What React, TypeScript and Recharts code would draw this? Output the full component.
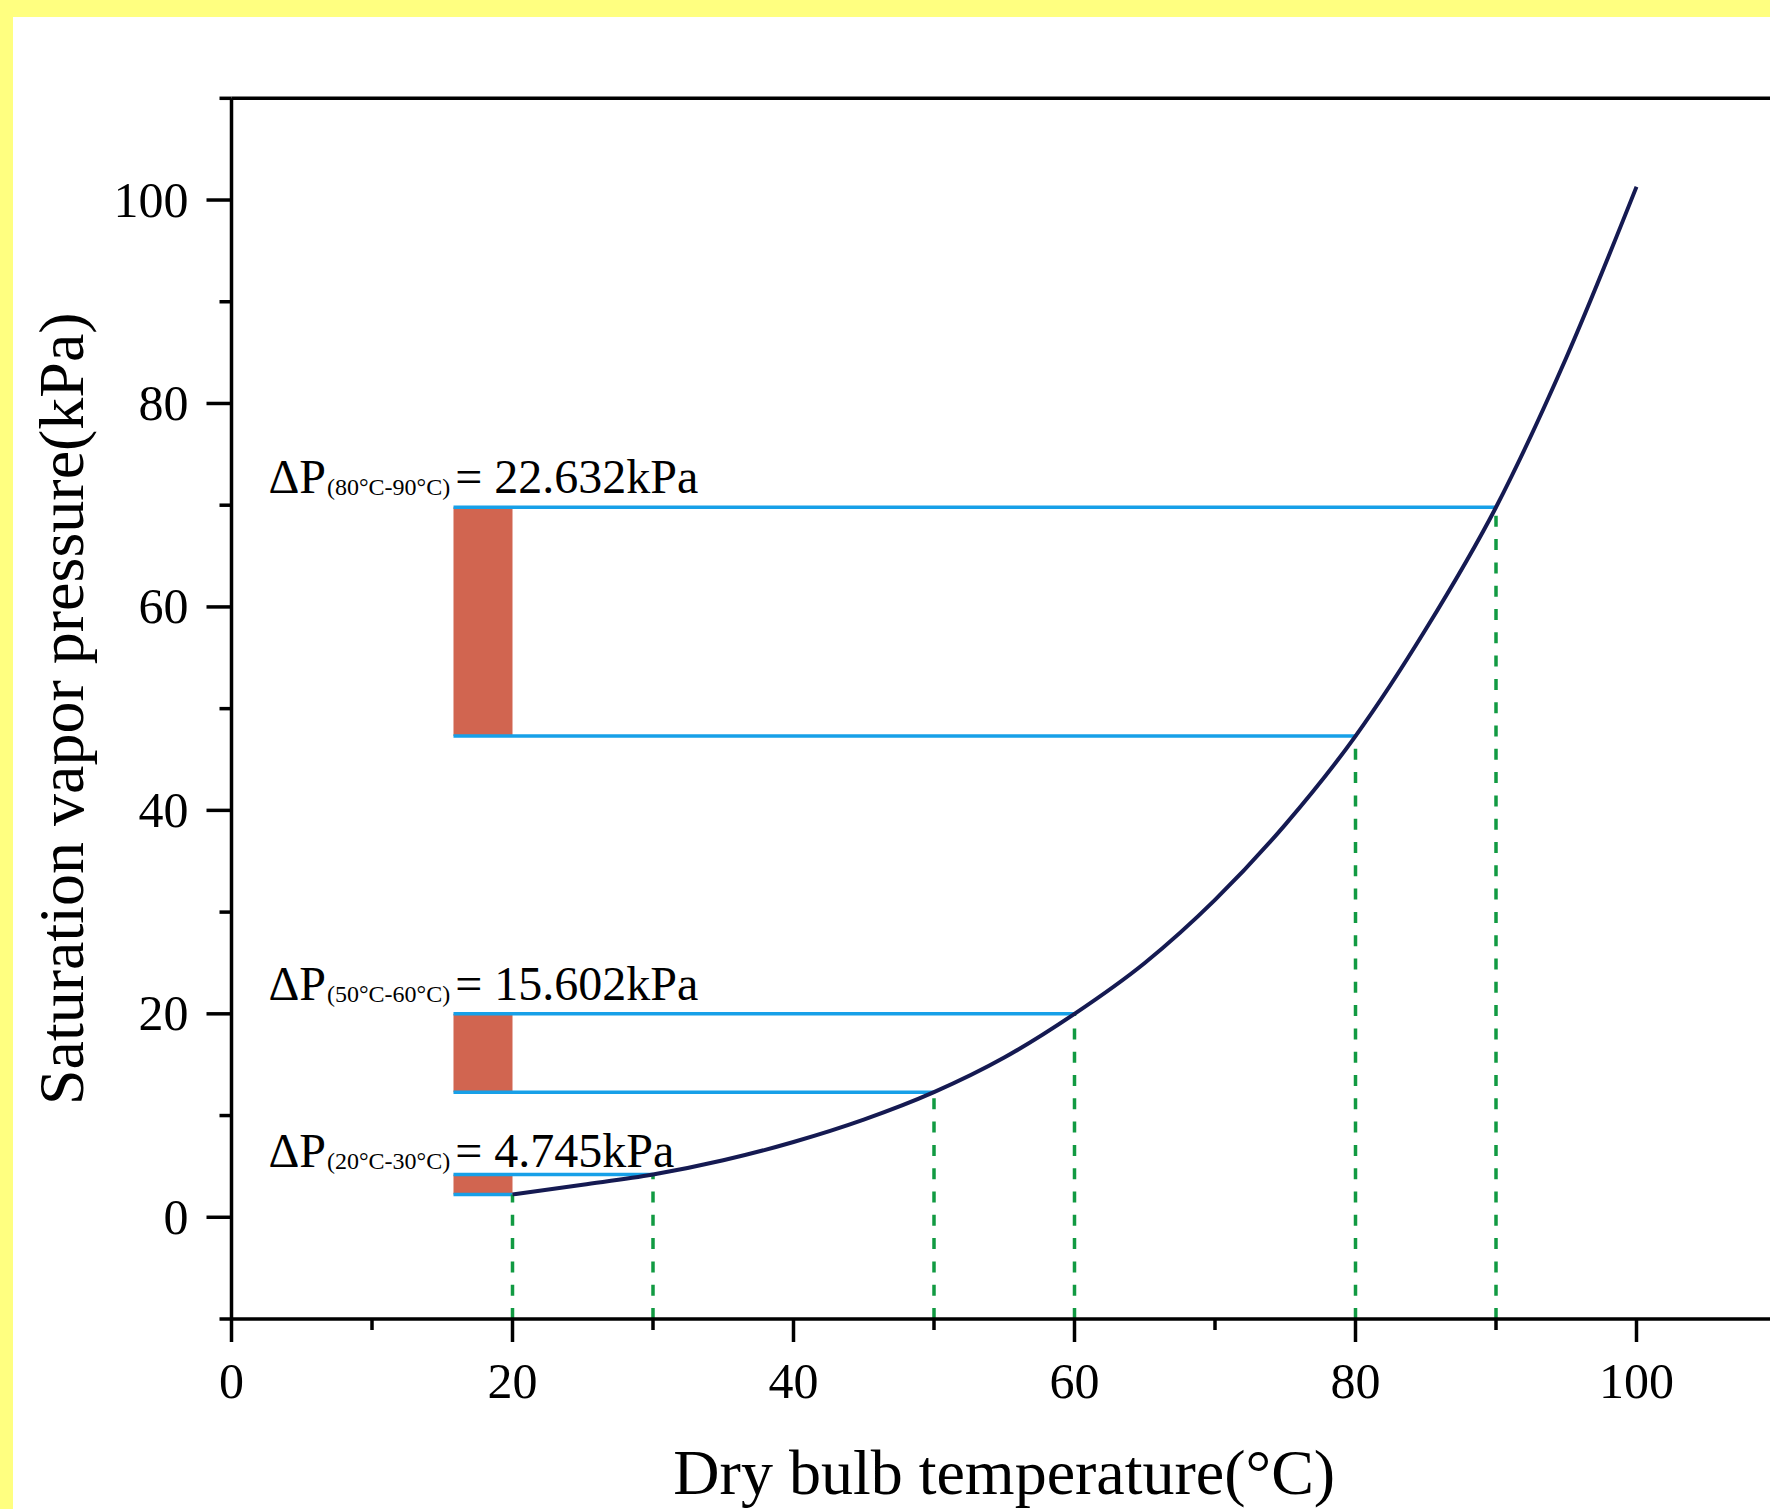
import React from 'react'
import {
  ComposedChart,
  Line,
  XAxis,
  YAxis,
  ReferenceLine,
  ReferenceArea,
  ReferenceDot,
} from 'recharts'

// saturation curve
const temperature = [20, 25, 30, 35, 40, 45, 50, 55, 60, 65, 70, 75, 80, 85, 90, 95, 100]
const pressure = [2.25, 3.2, 4.2, 5.6, 7.4, 9.6, 12.3, 15.7, 20.0, 25.0, 31.2, 38.6, 47.3, 57.8, 69.8, 84.5, 101.3]

// the three temperature steps that are highlighted
const stepLow = [80, 50, 20]
const stepHigh = [90, 60, 30]
const stepLowP = [47.3, 12.3, 2.25]
const stepHighP = [69.8, 20.0, 4.2]
const stepDelta = ['22.632', '15.602', '4.745']
const stepLabelY = [71.2, 21.4, 4.9]

const barLeft = 15.8
const barRight = 20
const labelX = 2.63

const xTicks = [0, 10, 20, 30, 40, 50, 60, 70, 80, 90, 100, 110]
const yTicks = [-10, 0, 10, 20, 30, 40, 50, 60, 70, 80, 90, 100, 110]

const curveData = temperature.map((t, i) => ({ t, p: pressure[i] }))
const markTemps = [...stepLow, ...stepHigh]
const markPressures = [...stepLowP, ...stepHighP]

const FONT = "'Liberation Serif', 'Times New Roman', serif"
const NAVY = '#151a52'
const BLUE = '#17a0e8'
const RED = '#d16550'
const GREEN = '#119a42'

function XTick({ x, y, payload }: any) {
  const major = payload.value % 20 === 0
  return (
    <g>
      <line x1={x} x2={x} y1={y} y2={y + (major ? 23 : 11)} stroke="#000" strokeWidth={3.5} />
      {major && payload.value <= 100 && (
        <text x={x} y={y + 79} textAnchor="middle" fontFamily={FONT} fontSize={50} fill="#000">
          {payload.value}
        </text>
      )}
    </g>
  )
}

function YTick({ x, y, payload }: any) {
  const major = payload.value % 20 === 0 && payload.value >= 0 && payload.value <= 100
  return (
    <g>
      <line x1={x - (major ? 25 : 12)} x2={x} y1={y} y2={y} stroke="#000" strokeWidth={3.5} />
      {major && (
        <text x={x - 43} y={y + 16.5} textAnchor="end" fontFamily={FONT} fontSize={50} fill="#000">
          {payload.value}
        </text>
      )}
    </g>
  )
}

function DeltaLabel({ viewBox, low, high, value }: any) {
  return (
    <text x={viewBox.x} y={viewBox.y} fontFamily={FONT} fontSize={48} fill="#000">
      <tspan>ΔP</tspan>
      <tspan fontSize={24} dx={1} dy={2}>{`(${low}°C-${high}°C)`}</tspan>
      <tspan fontSize={48} dx={5} dy={-2}>{`= ${value}kPa`}</tspan>
    </text>
  )
}

export default function App() {
  return (
    <div
      style={{
        position: 'absolute',
        left: 0,
        top: 0,
        width: 1770,
        height: 1509,
        background: '#ffff80',
        overflow: 'hidden',
      }}
    >
      <div style={{ position: 'absolute', left: 13, top: 17, right: 0, bottom: 0, background: '#fff' }} />
      <div style={{ position: 'absolute', left: 0, top: 0 }}>
        <ComposedChart
          width={1778}
          height={1509}
          data={curveData}
          margin={{ top: 98.3, right: 1, bottom: 0, left: 0 }}
        >
          <XAxis
            type="number"
            dataKey="t"
            domain={[0, 110]}
            ticks={xTicks}
            interval={0}
            height={190}
            tickSize={0}
            tickMargin={0}
            tickLine={false}
            axisLine={{ stroke: '#000', strokeWidth: 3.5 }}
            tick={<XTick />}
            label={{
              content: ({ viewBox }: any) => (
                <text
                  x={viewBox.x + viewBox.width / 2}
                  y={viewBox.y + 175}
                  textAnchor="middle"
                  fontFamily={FONT}
                  fontSize={64}
                  fill="#000"
                >
                  Dry bulb temperature(°C)
                </text>
              ),
            }}
          />
          <YAxis
            type="number"
            domain={[-10, 110]}
            ticks={yTicks}
            interval={0}
            width={231.5}
            tickSize={0}
            tickMargin={0}
            tickLine={false}
            axisLine={{ stroke: '#000', strokeWidth: 3.5 }}
            tick={<YTick />}
            label={{
              content: ({ viewBox }: any) => {
                const cx = viewBox.x + 83.5
                const cy = viewBox.y + viewBox.height / 2
                return (
                  <text
                    x={cx}
                    y={cy}
                    transform={`rotate(-90, ${cx}, ${cy})`}
                    textAnchor="middle"
                    fontFamily={FONT}
                    fontSize={64}
                    fill="#000"
                  >
                    Saturation vapor pressure(kPa)
                  </text>
                )
              },
            }}
          />
          <ReferenceLine y={110} stroke="#000" strokeWidth={3.5} />

          {stepLow.map((low, i) => (
            <ReferenceArea
              key={`bar-${low}`}
              x1={barLeft}
              x2={barRight}
              y1={stepLowP[i]}
              y2={stepHighP[i]}
              fill={RED}
              fillOpacity={1}
              stroke="none"
            />
          ))}

          {stepLow.map((low, i) => (
            <ReferenceLine
              key={`lo-${low}`}
              segment={[
                { x: barLeft, y: stepLowP[i] },
                { x: low, y: stepLowP[i] },
              ]}
              stroke={BLUE}
              strokeWidth={3.5}
            />
          ))}
          {stepHigh.map((high, i) => (
            <ReferenceLine
              key={`hi-${high}`}
              segment={[
                { x: barLeft, y: stepHighP[i] },
                { x: high, y: stepHighP[i] },
              ]}
              stroke={BLUE}
              strokeWidth={3.5}
            />
          ))}

          {markTemps.map((t, i) => (
            <ReferenceLine
              key={`drop-${t}`}
              segment={[
                { x: t, y: -10 },
                { x: t, y: markPressures[i] },
              ]}
              stroke={GREEN}
              strokeWidth={3.5}
              strokeDasharray="11 12.3"
            />
          ))}

          <Line
            type="monotone"
            dataKey="p"
            stroke={NAVY}
            strokeWidth={4}
            dot={false}
            activeDot={false}
            isAnimationActive={false}
          />

          {stepLow.map((low, i) => (
            <ReferenceDot
              key={`label-${low}`}
              x={labelX}
              y={stepLabelY[i]}
              r={0}
              fill="none"
              stroke="none"
              label={(props: any) => (
                <DeltaLabel viewBox={props.viewBox} low={low} high={stepHigh[i]} value={stepDelta[i]} />
              )}
            />
          ))}
        </ComposedChart>
      </div>
    </div>
  )
}
